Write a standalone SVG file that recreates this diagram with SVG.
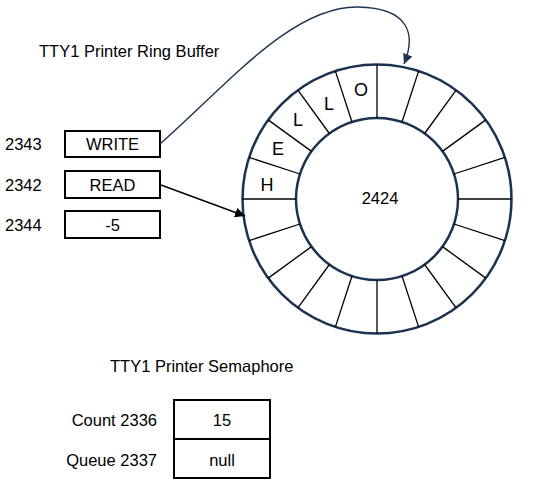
<svg xmlns="http://www.w3.org/2000/svg" width="546" height="500" viewBox="0 0 546 500">
<style>
text{font-family:"Liberation Sans",Arial,sans-serif;font-size:16.5px;fill:#000}
.c{text-anchor:middle;dominant-baseline:central}
.box{fill:#fff;stroke:#000;stroke-width:2}
.ring{fill:none;stroke:#1b3350;stroke-width:2.5}
.spoke{stroke:#000;stroke-width:1.3}
.letter{font-size:18px}
</style>
<defs>
<marker id="ah" viewBox="0 0 10 10" refX="10" refY="5" markerWidth="10" markerHeight="10" markerUnits="userSpaceOnUse" orient="auto"><path d="M0,0L10,5L0,10z" fill="#000"/></marker>
<marker id="ahn" viewBox="0 0 10 10" refX="10" refY="5" markerWidth="10" markerHeight="10" markerUnits="userSpaceOnUse" orient="auto"><path d="M0,0L10,5L0,10z" fill="#1b3350"/></marker>
</defs>
<rect width="546" height="500" fill="#fff"/>
<text x="39" y="51" dominant-baseline="central">TTY1 Printer Ring Buffer</text>
<g id="ring">
<circle cx="377" cy="199" r="134.5" class="ring"/>
<circle cx="377" cy="199" r="81" class="ring"/>
<line class="spoke" x1="458" y1="199" x2="511.5" y2="199"/>
<line class="spoke" x1="454.0" y1="224.0" x2="504.9" y2="240.6"/>
<line class="spoke" x1="442.5" y1="246.6" x2="485.8" y2="278.1"/>
<line class="spoke" x1="424.6" y1="264.5" x2="456.1" y2="307.8"/>
<line class="spoke" x1="402.0" y1="276.0" x2="418.6" y2="326.9"/>
<line class="spoke" x1="377" y1="280" x2="377" y2="333.5"/>
<line class="spoke" x1="352.0" y1="276.0" x2="335.4" y2="326.9"/>
<line class="spoke" x1="329.4" y1="264.5" x2="297.9" y2="307.8"/>
<line class="spoke" x1="311.5" y1="246.6" x2="268.2" y2="278.1"/>
<line class="spoke" x1="300.0" y1="224.0" x2="249.1" y2="240.6"/>
<line class="spoke" x1="296" y1="199" x2="242.5" y2="199"/>
<line class="spoke" x1="300.0" y1="174.0" x2="249.1" y2="157.4"/>
<line class="spoke" x1="311.5" y1="151.4" x2="268.2" y2="119.9"/>
<line class="spoke" x1="329.4" y1="133.5" x2="297.9" y2="90.2"/>
<line class="spoke" x1="352.0" y1="122.0" x2="335.4" y2="71.1"/>
<line class="spoke" x1="377" y1="118" x2="377" y2="64.5"/>
<line class="spoke" x1="402.0" y1="122.0" x2="418.6" y2="71.1"/>
<line class="spoke" x1="424.6" y1="133.5" x2="456.1" y2="90.2"/>
<line class="spoke" x1="442.5" y1="151.4" x2="485.8" y2="119.9"/>
<line class="spoke" x1="454.0" y1="174.0" x2="504.9" y2="157.4"/>
<text class="c letter" x="267" y="185">H</text>
<text class="c letter" x="278" y="149">E</text>
<text class="c letter" x="298" y="120">L</text>
<text class="c letter" x="329" y="104">L</text>
<text class="c letter" x="361" y="90">O</text>
<text class="c" x="380" y="198">2424</text>
</g>
<g id="write">
<text x="5" y="144" dominant-baseline="central">2343</text>
<rect class="box" x="65" y="131" width="95" height="26"/>
<text class="c" x="112.5" y="144">WRITE</text>
</g>
<g id="read">
<text x="5" y="185" dominant-baseline="central">2342</text>
<rect class="box" x="65" y="171" width="95" height="27"/>
<text class="c" x="112.5" y="185">READ</text>
</g>
<g id="count">
<text x="5" y="225" dominant-baseline="central">2344</text>
<rect class="box" x="65" y="211" width="95" height="27"/>
<text class="c" x="112.5" y="225">-5</text>
</g>
<text x="110" y="366" dominant-baseline="central">TTY1 Printer Semaphore</text>
<g id="semaphore">
<rect class="box" x="174" y="400" width="96" height="39"/>
<rect class="box" x="174" y="439" width="96" height="39"/>
<text x="157" y="420" text-anchor="end" dominant-baseline="central">Count 2336</text>
<text x="157" y="460" text-anchor="end" dominant-baseline="central">Queue 2337</text>
<text class="c" x="222" y="420">15</text>
<text class="c" x="222" y="460">null</text>
</g>
<g id="connectors">
<path d="M160,144 C228,84 292,6 358,7 C410,8 416,35 404,64" fill="none" stroke="#1b3350" stroke-width="1.4" marker-end="url(#ahn)"/>
<line x1="161" y1="185" x2="245" y2="216" stroke="#000" stroke-width="1.4" marker-end="url(#ah)"/>
</g>
</svg>
